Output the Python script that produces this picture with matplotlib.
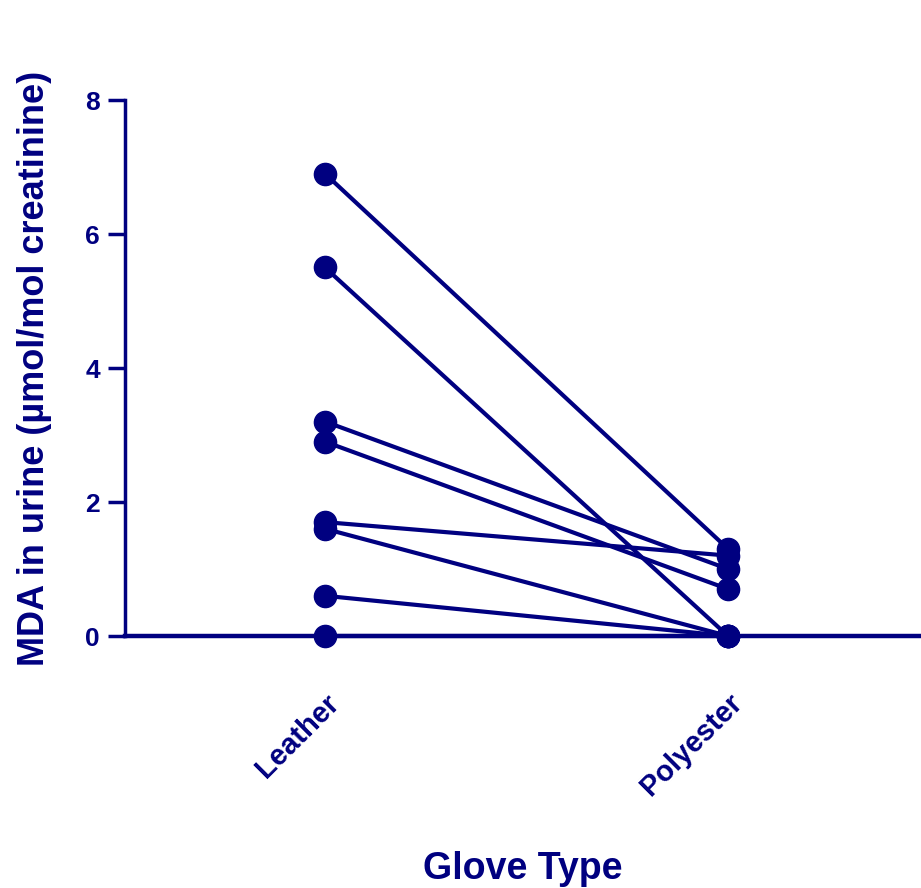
import numpy as np
import matplotlib.pyplot as plt

plt.rcParams['font.family'] = ['Liberation Sans', 'DejaVu Sans']
plt.rcParams['font.weight'] = 'bold'

NAVY = '#000080'

glove_types = ['Leather', 'Polyester']
leather = [6.9, 5.5, 3.2, 2.9, 1.7, 1.6, 0.6, 0.0]
polyester = [1.3, 0.0, 1.0, 0.7, 1.2, 0.0, 0.0, 0.0]
y_ticks = [0, 2, 4, 6, 8]

fig = plt.figure(figsize=(9.21, 8.88), dpi=100)
ax = fig.add_axes([125 / 921, (888 - 636) / 888, 796 / 921, 536 / 888])

xs = np.arange(len(glove_types))
for a, b in zip(leather, polyester):
    ax.plot(xs, [a, b], color=NAVY, lw=3, marker='o', ms=16,
            solid_capstyle='round', clip_on=False, zorder=3)

ax.set_xlim(-200 / 403, 1 + 193 / 403)
ax.set_ylim(0, 8)

ax.spines['top'].set_visible(False)
ax.spines['right'].set_visible(False)
ax.spines['left'].set_color(NAVY)
ax.spines['left'].set_linewidth(2.5)
ax.spines['bottom'].set_color(NAVY)
ax.spines['bottom'].set_linewidth(3.2)

ax.set_yticks(y_ticks)
ax.set_yticklabels([str(t) for t in y_ticks])
ax.tick_params(axis='y', colors=NAVY, length=12, width=2.5, labelsize=19, pad=6)
ax.set_xticks(xs)
ax.set_xticklabels(glove_types, rotation=45, ha='right', rotation_mode='anchor')
ax.tick_params(axis='x', colors=NAVY, length=6, width=2.5, labelsize=21, pad=32)

ax.set_ylabel('MDA in urine (µmol/mol creatinine)', color=NAVY, fontsize=26,
              fontweight='bold', labelpad=24)
ax.set_xlabel('Glove Type', color=NAVY, fontsize=27, fontweight='bold', labelpad=36)

fig.savefig('out.png', dpi=100)
